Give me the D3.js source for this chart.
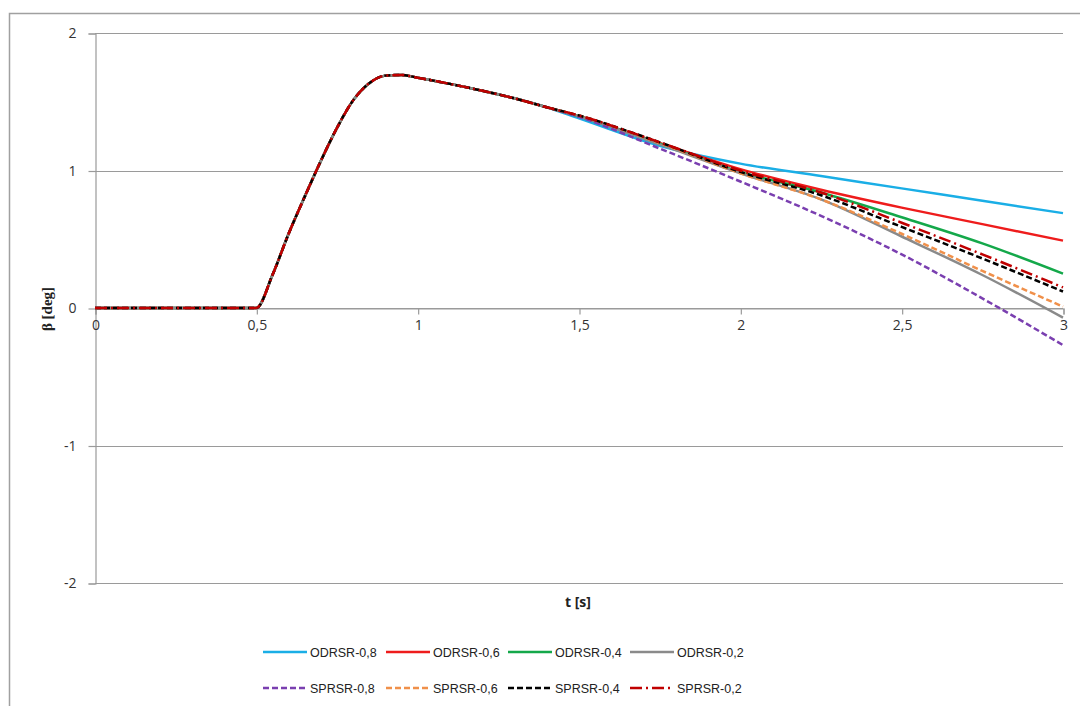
<!DOCTYPE html>
<html>
<head>
<meta charset="utf-8">
<script src="https://cdn.jsdelivr.net/npm/d3@7"></script>
<style>
  html, body { margin: 0; padding: 0; background: #fff; }
  svg { display: block; }
</style>
</head>
<body>
<svg id="chart" width="1080" height="706"></svg>
<script>
// ---- data ----
const riseT = [0, 0.5, 0.55, 0.6, 0.65, 0.7, 0.75, 0.8, 0.85, 0.9, 0.95, 1.0, 1.1, 1.2, 1.3, 1.4];
const riseBeta = [0, 0, 0.24, 0.54, 0.81, 1.07, 1.31, 1.51, 1.635, 1.69, 1.695, 1.675, 1.63, 1.58, 1.525, 1.46];
const tailT = [1.5, 1.75, 2.0, 2.25, 2.5, 2.75, 3.0];

const odrsr08 = [1.38, 1.18, 1.05, 0.96, 0.87, 0.78, 0.69];
const odrsr06 = [1.395, 1.20, 1.01, 0.86, 0.73, 0.61, 0.49];
const odrsr04 = [1.395, 1.195, 0.99, 0.84, 0.66, 0.47, 0.25];
const odrsr02 = [1.395, 1.19, 0.98, 0.79, 0.52, 0.24, -0.07];
const sprsr08 = [1.39, 1.16, 0.92, 0.67, 0.39, 0.07, -0.27];
const sprsr06 = [1.40, 1.20, 0.98, 0.79, 0.54, 0.27, 0.01];
const sprsr04 = [1.40, 1.205, 0.99, 0.82, 0.59, 0.36, 0.12];
const sprsr02 = [1.40, 1.205, 1.00, 0.84, 0.62, 0.39, 0.15];

const seriesNames = ["ODRSR-0,8", "ODRSR-0,6", "ODRSR-0,4", "ODRSR-0,2",
                     "SPRSR-0,8", "SPRSR-0,6", "SPRSR-0,4", "SPRSR-0,2"];
const seriesTails = [odrsr08, odrsr06, odrsr04, odrsr02, sprsr08, sprsr06, sprsr04, sprsr02];

const xTicks = [0, 0.5, 1, 1.5, 2, 2.5, 3];
const xTickLabels = ["0", "0,5", "1", "1,5", "2", "2,5", "3"];
const yTicks = [-2, -1, 0, 1, 2];
const yTickLabels = ["-2", "-1", "0", "1", "2"];

// ---- styles ----
const colors = ["#1aaee6", "#ee1c1c", "#14a84a", "#8a8a8a", "#7a3fb0", "#f0904a", "#000000", "#c00000"];
const dashes = [null, null, null, null, "6,3", "6,3", "6,3", "12,4,2,4"];

const svg = d3.select("#chart");

// outer border
svg.append("rect").attr("x", 9.5).attr("y", 13.5).attr("width", 1100).attr("height", 720)
  .attr("fill", "none").attr("stroke", "#a0a0a0").attr("stroke-width", 1.5);

const x = d3.scaleLinear().domain([0, 3]).range([95, 1063]);
const y = d3.scaleLinear().domain([-2, 2]).range([583, 33]);

// gridlines
svg.append("g").selectAll("line").data(yTicks).join("line")
  .attr("x1", x(0)).attr("x2", x(3))
  .attr("y1", d => Math.round(y(d)) + 0.5).attr("y2", d => Math.round(y(d)) + 0.5)
  .attr("stroke", "#9a9a9a").attr("stroke-width", 1.2);

// y axis
const yAxis = d3.axisLeft(y).tickValues(yTicks).tickSize(7).tickPadding(12)
  .tickFormat((d, i) => yTickLabels[i]);
const gy = svg.append("g").attr("transform", `translate(${x(0) + 0.5},0.5)`).call(yAxis);
gy.select(".domain").attr("stroke", "#9a9a9a").attr("stroke-width", 1.2);
gy.selectAll(".tick line").attr("stroke", "#9a9a9a").attr("stroke-width", 1.2);
gy.selectAll(".tick text").attr("font-family", "'Open Sans', sans-serif").attr("font-size", 14).attr("fill", "#333");

// x axis on zero line
const xAxis = d3.axisBottom(x).tickValues(xTicks).tickSize(6).tickPadding(6)
  .tickFormat((d, i) => xTickLabels[i]);
const gx = svg.append("g").attr("transform", `translate(0.5,${Math.round(y(0)) + 0.5})`).call(xAxis);
gx.select(".domain").attr("stroke", "#9a9a9a").attr("stroke-width", 1.2);
gx.selectAll(".tick line").attr("stroke", "#9a9a9a").attr("stroke-width", 1.2);
gx.selectAll(".tick text").attr("font-family", "'Open Sans', sans-serif").attr("font-size", 14).attr("fill", "#333");

// axis titles
svg.append("text").attr("x", 578).attr("y", 607).attr("text-anchor", "middle")
  .attr("font-family", "'Open Sans', sans-serif").attr("font-weight", "bold").attr("font-size", 14)
  .attr("fill", "#222").text("t [s]");
svg.append("text").attr("transform", "translate(52,309) rotate(-90)").attr("text-anchor", "middle")
  .attr("font-family", "'Liberation Serif', serif").attr("font-weight", "bold").attr("font-size", 15)
  .attr("fill", "#222").text("β [deg]");

// lines
const line = d3.line().x(d => x(d[0])).y(d => y(d[1])).curve(d3.curveMonotoneX);
seriesTails.forEach((tail, i) => {
  const pts = riseT.map((t, j) => [t, riseBeta[j]]).concat(tailT.map((t, j) => [t, tail[j]]));
  svg.append("path").datum(pts).attr("d", line)
    .attr("fill", "none").attr("stroke", colors[i]).attr("stroke-width", 2.5)
    .attr("stroke-dasharray", dashes[i]);
});

// legend
const legX = [263, 386, 508, 630];
const legY = [652, 688];
seriesNames.forEach((name, i) => {
  const col = i % 4, row = Math.floor(i / 4);
  const lx = legX[col], ly = legY[row];
  svg.append("line").attr("x1", lx).attr("x2", lx + 44).attr("y1", ly).attr("y2", ly)
    .attr("stroke", colors[i]).attr("stroke-width", 2.5).attr("stroke-dasharray", dashes[i]);
  svg.append("text").attr("x", lx + 47).attr("y", ly + 4.5)
    .attr("font-family", "'Liberation Sans', sans-serif").attr("font-size", 12.5).attr("fill", "#222")
    .text(name);
});
</script>
</body>
</html>
